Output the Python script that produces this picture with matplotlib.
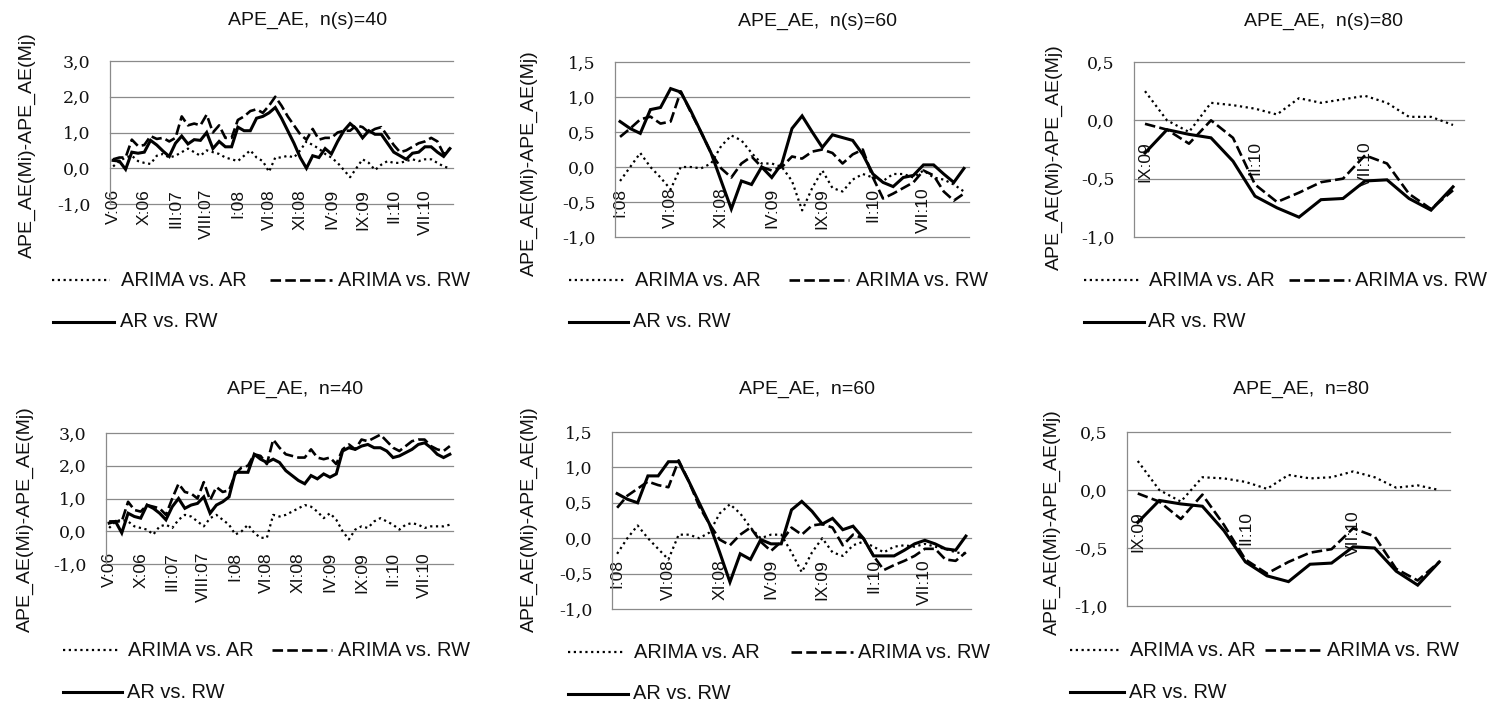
import matplotlib
matplotlib.use("Agg")
import matplotlib.pyplot as plt
from matplotlib.lines import Line2D
import numpy as np

# ---------------- data ----------------
labels_40 = ["V:06", "X:06", "III:07", "VIII:07", "I:08", "VI:08", "XI:08",
             "IV:09", "IX:09", "II:10", "VII:10"]
labels_60 = ["I:08", "VI:08", "XI:08", "IV:09", "IX:09", "II:10", "VII:10"]
labels_80 = ["IX:09", "II:10", "VII:10"]

series_names = ["ARIMA vs. AR", "ARIMA vs. RW", "AR vs. RW"]

# n(s)=40
ns40_arima_ar = [0.05, 0.2, 0.3, 0.35, 0.2, 0.15, 0.12, 0.35, 0.4, 0.3,
                 0.35, 0.45, 0.55, 0.45, 0.35, 0.5, 0.45, 0.4, 0.3, 0.25,
                 0.2, 0.35, 0.5, 0.3, 0.2, -0.1, 0.3, 0.3, 0.35, 0.3,
                 0.5, 0.75, 0.65, 0.55, 0.4, 0.3, 0.15, -0.05, -0.25, 0.0,
                 0.25, 0.15, -0.05, 0.1, 0.2, 0.15, 0.15, 0.2, 0.25, 0.2,
                 0.25, 0.25, 0.15, 0.05, 0.0]
ns40_arima_rw = [0.25, 0.3, 0.3, 0.8, 0.62, 0.65, 0.9, 0.82, 0.85, 0.75,
                 0.85, 1.45, 1.2, 1.25, 1.2, 1.5, 1.0, 1.2, 0.85, 0.85,
                 1.35, 1.45, 1.6, 1.65, 1.55, 1.75, 2.0, 1.75, 1.45, 1.2,
                 0.95, 0.8, 1.1, 0.8, 0.85, 0.85, 1.0, 1.05, 1.05, 1.2,
                 1.15, 1.0, 1.1, 1.15, 0.9, 0.65, 0.45, 0.5, 0.6, 0.7,
                 0.75, 0.85, 0.75, 0.4, 0.55]
ns40_ar_rw = [0.22, 0.2, -0.03, 0.45, 0.42, 0.45, 0.78, 0.65, 0.48, 0.33,
              0.7, 0.9, 0.68, 0.8, 0.78, 1.0, 0.55, 0.75, 0.6, 0.6,
              1.15, 1.05, 1.05, 1.4, 1.45, 1.55, 1.7, 1.4, 1.05, 0.7,
              0.3, 0.0, 0.35, 0.3, 0.55, 0.4, 0.75, 1.05, 1.25, 1.1,
              0.85, 1.05, 0.95, 0.95, 0.7, 0.45, 0.35, 0.25, 0.42, 0.45,
              0.6, 0.6, 0.45, 0.33, 0.55]

# n(s)=60
ns60_arima_ar = [-0.2, 0.0, 0.2, 0.0, -0.15, -0.32, 0.0, 0.0, -0.02, 0.05,
                 0.3, 0.45, 0.38, 0.2, 0.05, 0.05, 0.0, -0.2, -0.62, -0.3,
                 -0.05, -0.3, -0.35, -0.18, -0.1, -0.15, -0.2, -0.1, -0.1, -0.15,
                 -0.05, -0.15, -0.18, -0.25, -0.35]
ns60_arima_rw = [0.43, 0.55, 0.68, 0.72, 0.62, 0.65, 1.08, 0.78, 0.5, 0.2,
                 -0.02, -0.15, 0.05, 0.15, 0.0, -0.05, 0.0, 0.15, 0.12, 0.22,
                 0.25, 0.2, 0.05, 0.18, 0.25, -0.15, -0.45, -0.38, -0.3, -0.22,
                 -0.05, -0.12, -0.35, -0.48, -0.38]
ns60_ar_rw = [0.65, 0.55, 0.48, 0.82, 0.85, 1.12, 1.07, 0.8, 0.5, 0.2,
              -0.2, -0.6, -0.2, -0.25, 0.0, -0.15, 0.05, 0.55, 0.73, 0.5,
              0.28, 0.46, 0.42, 0.38, 0.18, -0.1, -0.22, -0.28, -0.15, -0.12,
              0.03, 0.03, -0.1, -0.22, -0.02]

# n(s)=80
ns80_arima_ar = [0.25, 0.0, -0.1, 0.15, 0.13, 0.1, 0.05, 0.19, 0.15, 0.18,
                 0.21, 0.15, 0.03, 0.03, -0.04]
ns80_arima_rw = [-0.03, -0.08, -0.2, 0.0, -0.15, -0.55, -0.7, -0.62, -0.53, -0.5,
                 -0.3, -0.37, -0.63, -0.76, -0.6]
ns80_ar_rw = [-0.28, -0.08, -0.12, -0.15, -0.35, -0.65, -0.75, -0.83, -0.68, -0.67,
              -0.52, -0.51, -0.67, -0.77, -0.57]

# n=40
n40_arima_ar = [0.1, 0.3, 0.35, 0.3, 0.15, 0.1, 0.05, -0.1, 0.15, 0.2,
                0.1, 0.35, 0.5, 0.45, 0.3, 0.15, 0.4, 0.5, 0.35, 0.2,
                -0.1, 0.0, 0.2, -0.05, -0.2, -0.2, 0.5, 0.45, 0.5, 0.6,
                0.7, 0.8, 0.75, 0.6, 0.4, 0.55, 0.35, 0.0, -0.25, 0.05,
                0.15, 0.1, 0.3, 0.4, 0.3, 0.2, 0.05, 0.2, 0.25, 0.2,
                0.1, 0.15, 0.15, 0.15, 0.2]
n40_arima_rw = [0.3, 0.3, 0.3, 0.9, 0.65, 0.6, 0.8, 0.75, 0.7, 0.5,
                1.0, 1.45, 1.2, 1.15, 1.0, 1.5, 0.95, 1.35, 1.2, 1.25,
                1.75, 1.95, 2.0, 2.35, 2.3, 2.05, 2.8, 2.55, 2.35, 2.3,
                2.25, 2.25, 2.5, 2.25, 2.2, 2.25, 2.05, 2.5, 2.65, 2.5,
                2.8, 2.75, 2.85, 2.95, 2.75, 2.55, 2.45, 2.6, 2.75, 2.8,
                2.8, 2.6, 2.5, 2.45, 2.6]
n40_ar_rw = [0.25, 0.3, -0.05, 0.55, 0.45, 0.4, 0.8, 0.7, 0.55, 0.35,
             0.75, 1.0, 0.7, 0.8, 0.85, 1.05, 0.55, 0.8, 0.9, 1.05,
             1.8, 1.8, 1.8, 2.35, 2.2, 2.1, 2.2, 2.1, 1.85, 1.7,
             1.55, 1.45, 1.7, 1.6, 1.75, 1.65, 1.75, 2.45, 2.55, 2.5,
             2.6, 2.65, 2.55, 2.55, 2.45, 2.25, 2.3, 2.4, 2.5, 2.65,
             2.7, 2.55, 2.35, 2.25, 2.35]

# n=60
n60_arima_ar = [-0.22, 0.0, 0.18, 0.0, -0.15, -0.3, 0.05, 0.05, 0.0, 0.08,
                0.35, 0.48, 0.35, 0.15, 0.0, 0.05, 0.05, -0.2, -0.48, -0.2,
                0.0, -0.2, -0.25, -0.1, -0.05, -0.12, -0.2, -0.12, -0.1, -0.12,
                -0.08, -0.12, -0.15, -0.2, -0.22]
n60_arima_rw = [0.43, 0.6, 0.7, 0.8, 0.75, 0.72, 1.1, 0.8, 0.45, 0.2,
                -0.02, -0.1, 0.05, 0.15, -0.05, -0.18, -0.05, 0.15, 0.05, 0.18,
                0.2, 0.15, -0.1, 0.05, 0.0, -0.25, -0.45, -0.38, -0.32, -0.25,
                -0.15, -0.15, -0.3, -0.32, -0.2]
n60_ar_rw = [0.63, 0.55, 0.5, 0.88, 0.88, 1.08, 1.08, 0.8, 0.5, 0.2,
             -0.2, -0.62, -0.22, -0.3, -0.02, -0.08, -0.08, 0.4, 0.52, 0.38,
             0.2, 0.28, 0.12, 0.17, 0.0, -0.25, -0.25, -0.25, -0.17, -0.08,
             -0.03, -0.08, -0.15, -0.17, 0.03]

# n=80
n80_arima_ar = [0.25, 0.0, -0.1, 0.11, 0.1, 0.07, 0.01, 0.13, 0.1, 0.11,
                0.16, 0.11, 0.02, 0.04, 0.0]
n80_arima_rw = [-0.03, -0.1, -0.25, -0.04, -0.3, -0.6, -0.72, -0.62, -0.54, -0.51,
                -0.33, -0.4, -0.68, -0.78, -0.62]
n80_ar_rw = [-0.28, -0.09, -0.12, -0.14, -0.35, -0.62, -0.74, -0.79, -0.64, -0.63,
             -0.49, -0.5, -0.7, -0.82, -0.62]

# ---------------- figure ----------------
W, H = 1488, 704
fig = plt.figure(figsize=(W / 100, H / 100), dpi=100)

SANS = ["Liberation Sans", "DejaVu Sans"]
SERIF = ["DejaVu Serif"]
TXT = "#111111"
GRID = "#8a8a8a"

styles = [
    dict(color="black", lw=1.6, linestyle=(0, (1, 1.6)), dash_capstyle="butt"),
    dict(color="black", lw=1.9, linestyle=(0, (4, 1.6)), dash_capstyle="butt"),
    dict(color="black", lw=2.2, linestyle="-"),
]

panels = [
    dict(title="APE_AE,  n(s)=40", data=(ns40_arima_ar, ns40_arima_rw, ns40_ar_rw),
         labels=labels_40, ylim=(-1.0, 3.0), ystep=1.0,
         box=(110, 61, 453, 204), ylab=(27, 145), ttl=(308, 20),
         leg=dict(y1=280, y2=321.7, dot=(51.7, 110), dot_t=120.7,
                  dash=(270, 331.7), dash_t=338.3, sol=(52.7, 114), sol_t=120)),
    dict(title="APE_AE,  n(s)=60", data=(ns60_arima_ar, ns60_arima_rw, ns60_ar_rw),
         labels=labels_60, ylim=(-1.0, 1.5), ystep=0.5,
         box=(615, 62, 969, 237), ylab=(529, 163), ttl=(818, 21),
         leg=dict(y1=280, y2=321.7, dot=(568.7, 624.3), dot_t=635.3,
                  dash=(789.3, 849.3), dash_t=856, sol=(568.7, 627.7), sol_t=632.7)),
    dict(title="APE_AE,  n(s)=80", data=(ns80_arima_ar, ns80_arima_rw, ns80_ar_rw),
         labels=labels_80, ylim=(-1.0, 0.5), ystep=0.5,
         box=(1134, 62, 1464, 237), ylab=(1054, 157), ttl=(1324, 21),
         leg=dict(y1=280, y2=321.7, dot=(1083.7, 1138.7), dot_t=1148.7,
                  dash=(1288.7, 1350.3), dash_t=1354.7, sol=(1083.7, 1143.7), sol_t=1148)),
    dict(title="APE_AE,  n=40", data=(n40_arima_ar, n40_arima_rw, n40_ar_rw),
         labels=labels_40, ylim=(-1.0, 3.0), ystep=1.0,
         box=(106, 433, 453, 564), ylab=(25, 519), ttl=(295, 389),
         leg=dict(y1=650.3, y2=692, dot=(63.3, 118.3), dot_t=128.3,
                  dash=(271.7, 331.7), dash_t=338.3, sol=(63.3, 121.7), sol_t=126.7)),
    dict(title="APE_AE,  n=60", data=(n60_arima_ar, n60_arima_rw, n60_ar_rw),
         labels=labels_60, ylim=(-1.0, 1.5), ystep=0.5,
         box=(612, 432, 971, 609), ylab=(529, 519.5), ttl=(807, 389),
         leg=dict(y1=652, y2=693.7, dot=(567.7, 622.7), dot_t=634.3,
                  dash=(791, 852.7), dash_t=857.7, sol=(567.7, 627.7), sol_t=632.7)),
    dict(title="APE_AE,  n=80", data=(n80_arima_ar, n80_arima_rw, n80_ar_rw),
         labels=labels_80, ylim=(-1.0, 0.5), ystep=0.5,
         box=(1127, 432, 1450, 606), ylab=(1052, 522), ttl=(1301, 389),
         leg=dict(y1=650.3, y2=692, dot=(1070.3, 1120.3), dot_t=1130.3,
                  dash=(1265.3, 1322), dash_t=1327, sol=(1070.3, 1123.7), sol_t=1128.7)),
]


def fx(px):
    return px / W


def fy(py):
    return 1 - py / H


for p in panels:
    l, t, r, b = p["box"]
    ax = fig.add_axes([fx(l), fy(b), (r - l) / W, (b - t) / H])
    n = len(p["data"][0])
    x = np.arange(n)
    for vals, st in zip(p["data"], styles):
        ax.plot(x, vals, zorder=3, solid_joinstyle="miter", **st)
    ax.set_xlim(-0.5, n - 0.5)
    y0, y1 = p["ylim"]
    ax.set_ylim(y0, y1)
    yt = np.arange(y0, y1 + p["ystep"] / 2, p["ystep"])
    for v in yt:
        ax.axhline(v, color=GRID, lw=0.9, zorder=0, clip_on=False)
    ax.set_yticks(yt)
    ax.set_yticklabels([f"{v:.1f}".replace(".", ",").replace("-0,0", "0,0") for v in yt],
                       family=SERIF, fontsize=12.5, color=TXT)
    ax.tick_params(axis="y", length=0, pad=14)
    ax.set_xticks([])
    for s in ["top", "right", "bottom"]:
        ax.spines[s].set_visible(False)
    ax.spines["left"].set_color(GRID)
    ax.spines["left"].set_linewidth(0.9)
    ax.patch.set_alpha(0)
    for i, lab in zip(range(0, n, 5), p["labels"]):
        ax.annotate(lab, xy=(i, 0), xycoords="data", xytext=(0, -15),
                    textcoords="offset points", rotation=90, ha="center", va="top",
                    fontsize=12.5, family=SANS, color=TXT, zorder=1)

    fig.text(fx(p["ttl"][0]), fy(p["ttl"][1]), p["title"], ha="center", va="center",
             fontsize=14, family=SANS, color=TXT)
    fig.text(fx(p["ylab"][0]), fy(p["ylab"][1]), "APE_AE(Mi)-APE_AE(Mj)", rotation=90,
             ha="center", va="center", fontsize=14, family=SANS, color=TXT)

    lg = p["leg"]
    items = [(lg["dot"], lg["dot_t"], lg["y1"], styles[0], series_names[0]),
             (lg["dash"], lg["dash_t"], lg["y1"], styles[1], series_names[1]),
             (lg["sol"], lg["sol_t"], lg["y2"], styles[2], series_names[2])]
    for (xa, xb), xt, yy, st, name in items:
        fig.add_artist(Line2D([fx(xa), fx(xb)], [fy(yy), fy(yy)],
                              transform=fig.transFigure, **st))
        fig.text(fx(xt), fy(yy), name, ha="left", va="center", fontsize=14.4,
                 family=SANS, color=TXT)

fig.savefig("out.png", dpi=100)
